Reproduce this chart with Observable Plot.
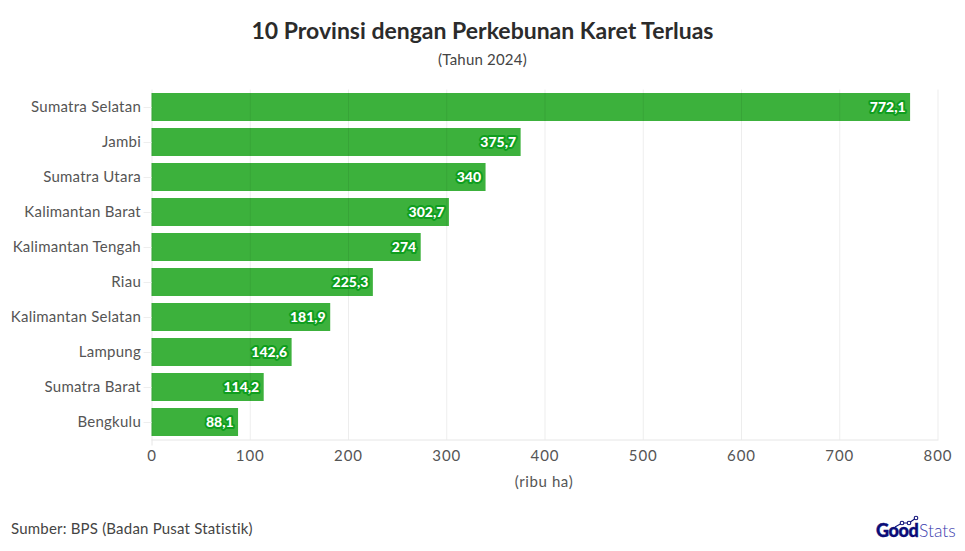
<!DOCTYPE html>
<html>
<head>
<meta charset="utf-8">
<script src="https://cdn.jsdelivr.net/npm/d3@7"></script>
<script src="https://cdn.jsdelivr.net/npm/@observablehq/plot@0.6"></script>
<style>
  html, body { margin: 0; padding: 0; background: #fff; }
  body { width: 965px; height: 551px; position: relative; overflow: hidden; font-family: "Lato", sans-serif; color: #333; }
  #title { position: absolute; left: 0; width: 965px; top: 15px; text-align: center; font-size: 23px; font-weight: 700; line-height: 30px; color: #2b2b2b; }
  #subtitle { position: absolute; left: 0; width: 965px; top: 49px; text-align: center; font-size: 15px; line-height: 20px; color: #444; letter-spacing: 0.2px; }
  #chart { position: absolute; left: 0; top: 80px; }
  #axis-title { position: absolute; left: 151px; width: 786px; top: 471px; text-align: center; font-size: 15px; line-height: 20px; color: #555; letter-spacing: 0.6px; }
  #source { position: absolute; left: 11px; top: 518px; font-size: 15px; line-height: 20px; color: #444; letter-spacing: 0.2px; }
  #logo { position: absolute; left: 870px; top: 512px; }
  #chart g[aria-label="y-axis tick label"] text { letter-spacing: 0.25px; }
  #chart g[aria-label="x-axis tick label"] text { letter-spacing: 0.9px; }
</style>
</head>
<body>
<div id="title">10 Provinsi dengan Perkebunan Karet Terluas</div>
<div id="subtitle">(Tahun 2024)</div>
<div id="chart"></div>
<div id="axis-title">(ribu ha)</div>
<div id="source">Sumber: BPS (Badan Pusat Statistik)</div>
<svg id="logo" width="90" height="30" viewBox="0 0 90 30">
  <polyline points="25,15 32,11 39,11 46,6" fill="none" stroke="#10127a" stroke-width="1.2"/>
  <circle cx="32" cy="11" r="1.8" fill="#fff" stroke="#10127a" stroke-width="1.1"/>
  <circle cx="39" cy="11" r="1.8" fill="#fff" stroke="#10127a" stroke-width="1.1"/>
  <circle cx="46" cy="6" r="1.8" fill="#fff" stroke="#10127a" stroke-width="1.1"/>
  <text x="6" y="25" font-family="Lato" font-size="18" font-weight="900" fill="#0b0d78" stroke="#0b0d78" stroke-width="0.4" letter-spacing="-0.4">Good</text>
  <text x="49" y="25" font-family="Lato" font-size="17.5" font-weight="300" fill="#3a3dae">Stats</text>
</svg>
<script>
const provinces = ["Sumatra Selatan","Jambi","Sumatra Utara","Kalimantan Barat","Kalimantan Tengah","Riau","Kalimantan Selatan","Lampung","Sumatra Barat","Bengkulu"];
const values = [772.1,375.7,340,302.7,274,225.3,181.9,142.6,114.2,88.1];
const xTicks = [0,100,200,300,400,500,600,700,800];
const rows = provinces.map((p,i)=>({p, v: values[i]}));
const label = v => String(v).replace(".", ",");

const plot = Plot.plot({
  width: 965,
  height: 390,
  marginLeft: 151.5,
  marginRight: 27.5,
  marginTop: 9.5,
  marginBottom: 30.5,
  style: { fontFamily: "Lato, sans-serif", background: "transparent", overflow: "visible" },
  x: { domain: [0,800], ticks: xTicks, label: null },
  y: { domain: provinces, label: null, paddingInner: 0.2, paddingOuter: 0.1, round: false },
  marks: [
    Plot.frame({anchor: "bottom", stroke: "#e6e6e6"}),
    Plot.barX(rows, {x: "v", y: "p", fill: "#3cb13c"}),
    Plot.gridX(xTicks, {stroke: "#000", strokeOpacity: 0.07}),
    Plot.text(rows, {
      x: "v", y: "p", text: d => label(d.v),
      textAnchor: "end", dx: -5,
      fill: "#fff", stroke: "#0f9e1e", strokeWidth: 4, paintOrder: "stroke",
      fontWeight: 900, fontSize: 14
    }),
    Plot.axisY({tickSize: 8, stroke: "#eeeeee", fill: "#555", fontSize: 15, tickPadding: 3, label: null}),
    Plot.axisX({ticks: [0], tickSize: 6, stroke: "#e6e6e6", text: null, label: null}),
    Plot.axisX({ticks: xTicks, tickSize: 0, fill: "#555", fontSize: 15, tickPadding: 10, label: null})
  ]
});
document.getElementById("chart").appendChild(plot);
</script>
</body>
</html>
